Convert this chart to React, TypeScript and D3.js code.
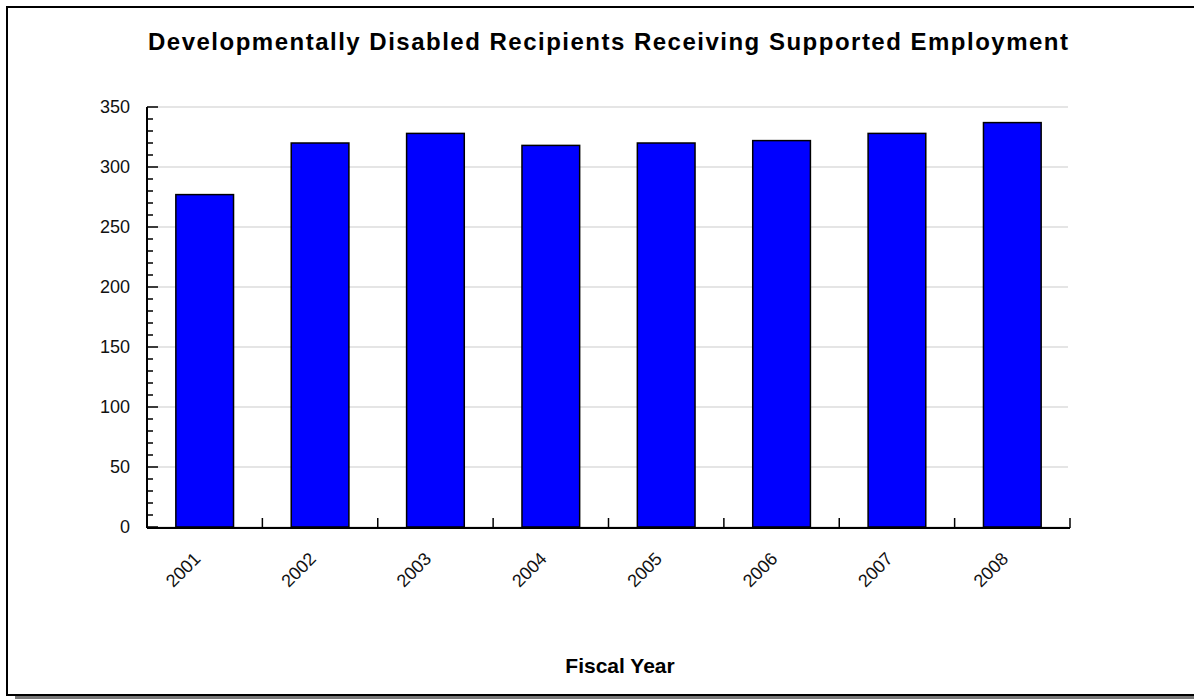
import React, { useEffect } from "react";
import * as d3 from "d3";

const categories = ["2001", "2002", "2003", "2004", "2005", "2006", "2007", "2008"];
const values = [277, 320, 328, 318, 320, 322, 328, 337];
const yTicks = [0, 50, 100, 150, 200, 250, 300, 350];
const title = "Developmentally Disabled Recipients Receiving Supported Employment";
const xTitle = "Fiscal Year";

export default function App() {
  useEffect(() => {
    document.body.style.margin = "0";
    document.body.style.overflow = "hidden";
  }, []);
  const W = 1194, H = 700;
  const left = 147, right = 1070, top = 107, bottom = 527;
  const x = d3.scaleBand().domain(categories).range([left, right]).paddingInner(0.5).paddingOuter(0.25);
  const xb = d3.scaleBand().domain(categories).range([left, right]);
  const y = d3.scaleLinear().domain([0, 350]).range([bottom, top]);
  const minor = d3.range(0, 351, 10);
  const font = "'Liberation Sans', Arial, sans-serif";
  return (
    <svg width={W} height={H} style={{ position: "absolute", left: 0, top: 0, display: "block" }}>
      <rect x={0} y={0} width={W} height={H} fill="#fff" />
      <rect x={15} y={695} width={W} height={4} fill="#777" />
      <line x1={7} x2={W} y1={7} y2={7} stroke="#000" strokeWidth={2} />
      <line x1={7} x2={7} y1={6} y2={695} stroke="#000" strokeWidth={2} />
      <line x1={6} x2={W} y1={695} y2={695} stroke="#000" strokeWidth={2} />
      <text x={608} y={50} textAnchor="middle" fontFamily={font} fontWeight="bold" fontSize={24}
        textLength={920} lengthAdjust="spacing" fill="#000">{title}</text>
      {yTicks.map(t => (
        <line key={"g" + t} x1={left} x2={right - 2} y1={y(t)} y2={y(t)} stroke="#dcdcdc" strokeWidth={1.5} />
      ))}
      {values.map((v, i) => (
        <rect key={categories[i]} x={x(categories[i])!} y={y(v)} width={x.bandwidth()} height={y(0) - y(v)}
          fill="#0000ff" stroke="#000" strokeWidth={1.5} />
      ))}
      {minor.map(t => (
        <line key={"m" + t} x1={left} x2={left + (t % 50 === 0 ? 11 : 6)} y1={y(t)} y2={y(t)} stroke="#000" strokeWidth={1.5} />
      ))}
      <line x1={left} x2={left} y1={top} y2={bottom + 1} stroke="#000" strokeWidth={2} />
      <line x1={left} x2={right} y1={bottom + 1} y2={bottom + 1} stroke="#000" strokeWidth={2} />
      {categories.map(c => (
        <line key={"t" + c} x1={xb(c)! + xb.bandwidth()} x2={xb(c)! + xb.bandwidth()} y1={bottom + 1} y2={bottom - 9} stroke="#000" strokeWidth={1.5} />
      ))}
      {yTicks.map(t => (
        <text key={"yl" + t} x={130} y={y(t) + 6} textAnchor="end" fontFamily={font} fontSize={18} fill="#111">{t}</text>
      ))}
      {categories.map(c => {
        const cx = x(c)! + x.bandwidth() / 2;
        return (
          <text key={"xl" + c} transform={`translate(${cx - 3},${560}) rotate(-45)`} textAnchor="end"
            fontFamily={font} fontSize={18} fill="#111">{c}</text>
        );
      })}
      <text x={620} y={673} textAnchor="middle" fontFamily={font} fontWeight="bold" fontSize={21} fill="#000">{xTitle}</text>
    </svg>
  );
}
